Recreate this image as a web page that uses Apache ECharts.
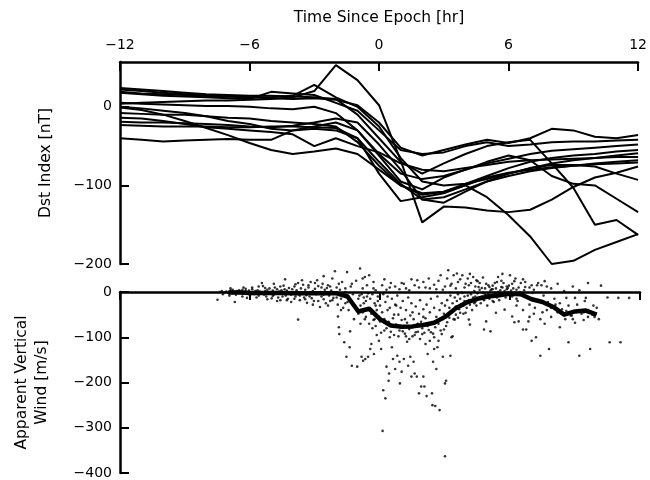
<!DOCTYPE html>
<html><head><meta charset="utf-8">
<script src="https://cdn.jsdelivr.net/npm/echarts@6/dist/echarts.min.js"></script>
<style>html,body{margin:0;padding:0;background:#fff}#c{width:650px;height:480px}</style>
</head><body><div id="c"></div>
<script>
// ---- data ----
const hours = [-12,-11,-10,-9,-8,-7,-6,-5,-4,-3,-2,-1,0,1,2,3,4,5,6,7,8,9,10,11,12];
const dst01 = [4,5,6,7,8,8,9,10,12,20,53,34,2,-68,-147,-127,-128,-132,-134,-131,-118,-102,-90,-84,-76];
const dst02 = [-8,-9,-10,-10,-12,-14,-15,-18,-20,-22,-25,-45,-75,-100,-112,-108,-100,-115,-138,-165,-200,-196,-182,-172,-162];
const dst03 = [24,22,20,18,16,15,14,14,13,12,10,-10,-40,-70,-85,-72,-60,-50,-45,-42,-72,-103,-150,-144,-163];
const dst04 = [0,-2,-5,-8,-12,-18,-22,-28,-30,-25,-20,-30,-62,-95,-105,-90,-80,-70,-62,-68,-88,-98,-100,-117,-134];
const dst05 = [19,17,16,15,14,13,12,12,14,28,12,0,-25,-65,-95,-100,-98,-92,-85,-78,-74,-74,-76,-85,-93];
const dst06 = [22,20,18,16,14,13,12,11,10,11,9,2,-20,-52,-62,-55,-48,-42,-46,-40,-28,-30,-38,-40,-36];
const dst07 = [18,16,14,13,12,11,10,19,17,15,5,-5,-30,-55,-60,-58,-50,-45,-50,-48,-45,-44,-44,-43,-42];
const dst08 = [5,4,3,2,1,1,0,-2,-3,0,-8,-30,-60,-85,-92,-88,-80,-72,-66,-60,-56,-54,-52,-50,-48];
const dst09 = [-1,-4,-10,-18,-27,-36,-46,-55,-60,-57,-53,-60,-80,-100,-110,-108,-98,-88,-78,-70,-65,-62,-60,-57,-55];
const dst10 = [-40,-42,-44,-43,-42,-41,-42,-42,-30,-28,-30,-40,-70,-98,-118,-115,-105,-95,-85,-78,-72,-68,-65,-62,-59];
const dst11 = [-14,-15,-18,-22,-26,-28,-30,-32,-35,-50,-40,-50,-58,-72,-80,-82,-78,-74,-70,-68,-67,-66,-65,-64,-64];
const dst12 = [-19,-20,-20,-21,-22,-23,-25,-26,-24,-20,-15,-20,-48,-80,-118,-122,-108,-95,-88,-82,-78,-75,-72,-70,-68];
const dst13 = [-23,-24,-25,-25,-25,-26,-26,-25,-25,-26,-27,-40,-85,-120,-115,-110,-100,-90,-84,-80,-77,-75,-73,-72,-71];
const dstStorms = [dst01,dst02,dst03,dst04,dst05,dst06,dst07,dst08,dst09,dst10,dst11,dst12,dst13];

const meanHours = [-7,-6.5,-6,-5.5,-5,-4.5,-4,-3.5,-3,-2.5,-2,-1.5,-1,-0.5,0,0.5,1,1.5,2,2.5,3,3.5,4,4.5,5,5.5,6,6.5,7,7.5,8,8.5,9,9.5,10];
const meanWind = [-1,-1,-2,-2,-2,-2,-3,-3,-3,-3,-3,-10,-43,-37,-60,-74,-77,-76,-73,-68,-55,-36,-23,-15,-10,-7,-4,-5,-16,-22,-33,-50,-43,-41,-50];

const windSamples = [
[-7.5,-17],[-7.4,0],[-7.3,2],[-7.2,-1],[-7.1,1],[-7.0,-2],
[-6.9,3],[-6.85,0],[-6.8,-3],[-6.75,1],[-6.7,-22],[-6.6,2],[-6.55,-1],[-6.5,4],
[-6.45,-2],[-6.4,1],[-6.35,5],[-6.3,-4],[-6.25,0],[-6.2,2],[-6.14,-13],[-6.1,-1],[-6.05,3],
[-5.95,-3],[-5.9,6],[-5.85,0],[-5.8,-5],[-5.75,2],[-5.7,-1],[-5.65,4],[-5.6,-8],[-5.55,1],
[-5.45,20],[-5.4,13],[-5.35,-6],[-5.3,2],[-5.25,-10],[-5.2,5],[-5.15,-3],[-5.1,8],[-5.05,-1],[-5.0,-14],
[-4.95,3],[-4.9,-6],[-4.85,10],[-4.8,-2],[-4.75,6],[-4.7,-12],[-4.65,1],[-4.6,-18],[-4.55,4],[-4.5,-4],
[-4.45,14],[-4.38,28],[-4.35,-8],[-4.3,3],[-4.25,-15],[-4.2,9],[-4.15,-3],[-4.1,-22],[-4.05,6],[-4.0,0],
[-3.95,12],[-3.9,-10],[-3.85,4],[-3.78,20],[-3.78,-61],[-3.75,-5],[-3.7,-18],[-3.65,8],[-3.6,-2],[-3.55,16],[-3.5,-12],
[-3.45,5],[-3.4,-7],[-3.37,-24],[-3.3,10],[-3.25,-3],[-3.2,22],[-3.15,-14],[-3.1,2],[-3.05,-20],[-3.0,7],
[-2.95,-5],[-2.9,26],[-2.85,13],[-2.77,-33],[-2.75,0],[-2.7,-10],[-2.65,18],[-2.6,-16],[-2.55,5],[-2.5,-25],[-2.45,9],
[-2.4,15],[-2.35,-8],[-2.3,-20],[-2.25,3],[-2.2,30],[-2.15,-13],[-2.08,46],[-2.05,-4],[-2.0,10],[-1.95,-28],[-1.94,-54],
[-1.9,-78],[-1.88,-93],[-1.85,5],[-1.8,-15],[-1.75,22],[-1.7,-35],[-1.65,-111],[-1.6,0],[-1.55,-143],[-1.52,44],[-1.5,-22],
[-1.45,-40],[-1.4,-122],[-1.38,-87],[-1.35,12],[-1.3,-163],[-1.25,-5],[-1.2,-60],[-1.15,-30],[-1.1,25],[-1.05,-165],[-1.0,-48],[-1.0,-15],
[-0.92,52],[-0.9,-70],[-0.85,-143],[-0.8,30],[-0.78,-152],[-0.75,-25],[-0.7,33],[-0.68,-148],[-0.65,-55],[-0.6,-10],[-0.55,-143],[-0.5,-40],[-0.5,37],
[-0.45,-126],[-0.4,-115],[-0.35,-80],[-0.3,22],[-0.28,-137],[-0.25,-60],[-0.2,-30],[-0.15,-95],[-0.1,-20],[-0.05,-108],[0.0,-65],
[0.05,-126],[0.1,15],[0.12,-307],[0.15,-217],[0.2,-85],[0.25,-235],[0.3,-165],[0.35,-40],[0.4,-196],[0.42,-180],[0.45,-100],[0.5,20],
[0.55,-122],[0.6,-148],[0.65,-50],[0.7,-170],[0.75,-30],[0.8,-141],[0.85,-98],[0.9,-154],[0.92,-202],[0.95,-75],[1.0,20],[1.0,-176],
[1.05,-87],[1.1,-148],[1.15,-60],[1.2,-98],[1.25,-110],[1.3,-163],[1.35,-104],[1.4,-143],[1.45,-187],[1.5,-98],[1.5,-45],[1.45,28],
[1.55,-154],[1.6,-180],[1.65,-89],[1.7,-187],[1.72,26],[1.75,-70],[1.8,-224],[1.85,-104],[1.9,-209],[1.95,-93],[2.0,-187],[2.0,-55],
[2.05,-209],[2.1,-115],[2.15,-230],[2.2,-137],[2.25,30],[2.3,-108],[2.35,-89],[2.4,-224],[2.42,-250],[2.45,-154],[2.5,-100],[2.5,-126],
[2.55,-252],[2.6,-170],[2.65,-122],[2.7,-108],[2.75,-261],[2.8,37],[2.85,-93],[2.9,-143],[2.95,-83],[3.0,-202],[3.0,-363],
[3.05,-196],[3.1,-67],[3.15,48],[3.2,-57],[3.25,-141],[3.3,-100],[3.35,-98],[3.4,37],[3.45,-61],[3.5,-50],
[3.55,41],[3.6,-57],[3.7,-46],[3.8,37],[3.85,-30],[3.9,-20],[3.95,-46],
[4.05,30],[4.1,-61],[4.15,-72],[4.2,20],[4.3,33],[4.35,-25],[4.4,-10],[4.45,26],
[4.55,11],[4.6,-15],[4.7,9],[4.8,-83],[4.85,-5],[4.9,-65],
[5.05,11],[5.1,-87],[5.2,-20],[5.3,20],[5.35,-46],[5.45,33],[5.5,-8],
[5.6,11],[5.7,20],[5.75,-39],[5.8,-3],[5.9,9],[6.0,37],
[6.1,-54],[6.2,-67],[6.25,30],[6.3,-15],[6.4,-65],[6.5,20],
[6.6,-83],[6.7,11],[6.75,-83],[6.85,-65],[7.0,-108],[7.0,15],
[7.2,-100],[7.25,15],[7.4,-141],[7.45,15],
[7.6,24],[7.75,-22],[7.8,-126],[8.0,-33],[8.1,-28],[8.3,-78],
[8.6,-13],[8.7,-111],[8.8,-52],[8.9,-60],[9.0,-13],[9.2,-141],[9.7,-126],[9.4,-45],[9.5,-13],[9.6,-40],[9.8,-50],[10.0,-35],
[10.6,-111],[11.1,-111],[10.5,-12],[11.0,-13],[11.5,-13],
[-0.95,-8],[-0.9,-30],[-0.85,-5],[-0.8,-45],[-0.75,-12],[-0.7,-60],[-0.65,-20],[-0.6,-38],[-0.55,-3],[-0.5,-70],[-0.45,-15],[-0.4,-48],[-0.35,-5],[-0.3,-62],[-0.25,-25],[-0.2,-75],[-0.15,-40],[-0.1,-10],[-0.05,-55],[0.0,-30],
[0.05,-90],[0.1,-45],[0.15,-5],[0.2,-60],[0.25,-22],[0.3,-80],[0.35,-10],[0.4,-66],[0.45,-35],[0.5,-88],[0.55,-15],[0.6,-58],[0.65,-95],[0.7,-28],[0.75,-72],[0.8,-8],[0.85,-50],[0.9,-85],[0.95,-35],[1.0,-62],
[1.05,-20],[1.1,-75],[1.15,-92],[1.2,-40],[1.25,-68],[1.3,-12],[1.35,-82],[1.4,-52],[1.45,-25],[1.5,-78],[1.55,-60],[1.6,-95],[1.65,-32],[1.7,-72],[1.75,-88],[1.8,-48],[1.85,-18],[1.9,-66],[1.95,-80],[2.0,-38],
[2.05,-90],[2.1,-58],[2.15,-28],[2.2,-75],[2.25,-84],[2.3,-45],[2.35,-15],[2.4,-68],[2.45,-92],[2.5,-35],[2.55,-78],[2.6,-55],[2.65,-10],[2.7,-70],[2.75,-40],[2.8,-85],[2.85,-25],[2.9,-60],[2.95,-48],[3.0,-30],
[3.05,-75],[3.1,-18],[3.15,-52],[3.2,-35],[3.25,-8],[3.3,-44],[3.35,-25],[3.4,-60],[3.45,-12],[3.5,-32],[3.55,-20],[3.6,-5],[3.65,-38],[3.7,-15],[3.75,-28],[3.8,-2],[3.85,-48],[3.9,-10],[3.95,-22],[4.0,-35],
[4.05,-8],[4.1,-18],[4.15,-28],[4.2,-5],[4.25,-40],[4.3,-12],[4.35,2],[4.4,-22],[4.45,-30],[4.5,-3],[4.55,-15],[4.6,5],[4.65,-25],[4.7,-10],[4.75,-2],[4.8,-18],[4.85,8],[4.9,-8],[4.95,-30],[5.0,-5],
[5.05,-15],[5.1,3],[5.15,-10],[5.2,6],[5.25,-22],[5.3,-2],[5.35,8],[5.4,-12],[5.45,0],[5.5,-18],[5.55,4],[5.6,-6],[5.65,10],[5.7,-3],[5.75,2],[5.8,-12],[5.85,6],[5.9,-2],[5.95,14],[6.0,-5],
[6.05,3],[6.1,-10],[6.15,8],[6.2,-2],[6.3,5],[6.35,-20],[6.45,0],[6.55,-8],[6.65,4],[6.8,-12],[6.9,-28],[7.05,-2],[7.15,-35],[7.3,-18],[7.5,-45],[7.55,-8],[7.7,-40],[7.9,-55],[8.05,-15],[8.2,-45],[8.4,-38],[8.55,-60],[8.7,-30],[8.85,-52],[9.0,-68],[9.15,-40],[9.3,-48],[9.45,-20],[9.6,-55],[9.75,-45],[9.85,-30],
[-0.3,8],[0.3,5],[0.7,12],[1.2,8],[1.6,15],[2.1,10],[2.6,6],[3.0,12],[3.3,18],[3.6,22],[3.9,10],[4.1,15],[4.5,24],[4.9,18],[5.2,14],[5.6,25],[6.1,18],[6.7,22],[7.1,5],[7.9,8],[8.5,2],[9.2,4],
[-0.8,8],[-0.6,15],[-0.2,4],[0.2,28],[0.45,10],[0.9,6],[1.1,18],[1.35,4],[1.8,10],[2.0,22],[2.3,8],[2.5,16],[2.7,25],[2.9,5],[3.1,30],[3.25,14],[3.5,8],[3.7,28],[3.95,18],[4.15,40],[4.4,12],[4.6,20],[4.75,32],[5.0,15],[5.15,6],[5.4,22],[5.65,40],[5.85,12],[6.2,24],[6.4,10],[6.6,28],[6.9,10],[7.3,20],[7.7,12],[8.2,18],[8.9,12],[9.6,20],[10.2,14],[-1.3,18],[-1.6,8],[-2.6,35],[-3.6,26],[-4.9,18],[-5.6,12],[-6.3,10],[-6.9,8],
[-7.25,-5],[-6.95,-8],[-6.65,-6],[-6.35,-10],[-6.0,-7],[-5.7,-12],[-5.5,-4],[-5.2,-16],[-4.95,-9],[-4.75,-20],[-4.5,-10],[-4.3,-18],[-4.1,-6],[-3.95,-15],[-3.7,-8],[-3.45,-16],[-3.25,-10],[-3.1,-28],[-2.85,-20],[-2.6,-6],[-2.4,-30],[-2.2,-18],[-2.0,-12],[-1.8,-40],[-1.6,-25],[-1.45,-10],[-6.8,5],[-6.2,7],[-5.9,10],[-5.3,9],[-4.6,12],[-4.4,6],[-3.9,17],[-3.3,15],[-3.0,20],[-2.7,10],[-2.3,12],[-1.9,18],
[6.3,-30],[6.6,-40],[6.9,-55],[7.1,-48],[7.4,-60],[7.6,-70],[7.9,-35],[8.3,-25],[8.6,-42],[9.1,-28],[9.4,-62],[9.9,-55],[10.1,-60]
];

// ---- chart ----
const FONT = 'DejaVu Sans';
const minus = v => String(v).replace('-', '\u2212');
const chart = echarts.init(document.getElementById('c'), null, {renderer: 'canvas'});
const axisLine = {show: true, onZero: false, lineStyle: {color: '#000', width: 2.5}};
const tick = {show: true, inside: true, length: 9, lineStyle: {color: '#000', width: 2}};
const series = dstStorms.map((vals, k) => ({
  type: 'line', xAxisIndex: 0, yAxisIndex: 0, name: 'storm' + (k + 1),
  data: hours.map((h, i) => [h, vals[i]]),
  showSymbol: false, symbol: 'none', silent: true, animation: false,
  lineStyle: {color: '#000', width: 2}
}));
series.push({
  type: 'scatter', xAxisIndex: 1, yAxisIndex: 1, data: windSamples, clip: false,
  symbol: 'circle', symbolSize: 2.6, itemStyle: {color: '#000'}, silent: true, animation: false
});
series.push({
  type: 'line', xAxisIndex: 1, yAxisIndex: 1,
  data: meanHours.map((h, i) => [h, meanWind[i]]), clip: false,
  showSymbol: false, symbol: 'none', silent: true, animation: false,
  lineStyle: {color: '#000', width: 4.5, join: 'round'}
});
chart.setOption({
  backgroundColor: '#fff',
  animation: false,
  textStyle: {fontFamily: FONT},
  grid: [
    {left: 120, right: 10, top: 62, height: 202},
    {left: 120, right: 10, top: 292, height: 183}
  ],
  xAxis: [
    {gridIndex: 0, type: 'value', position: 'top', min: -12, max: 12, interval: 6,
     name: 'Time Since Epoch [hr]', nameLocation: 'middle', nameGap: 36,
     nameTextStyle: {fontFamily: FONT, fontSize: 15.5, color: '#000'},
     axisLine: axisLine, axisTick: tick, splitLine: {show: false},
     axisLabel: {fontFamily: FONT, fontSize: 14, color: '#000', margin: 10, formatter: minus}},
    {gridIndex: 1, type: 'value', position: 'top', min: -12, max: 12, interval: 6,
     axisLine: axisLine,
     axisTick: {show: true, inside: true, length: 8, lineStyle: {color: '#000', width: 2}},
     splitLine: {show: false}, axisLabel: {show: false}}
  ],
  yAxis: [
    {gridIndex: 0, type: 'value', position: 'left', min: -200, max: 57, interval: 100,
     name: 'Dst Index [nT]', nameLocation: 'middle', nameGap: 66,
     nameTextStyle: {fontFamily: FONT, fontSize: 15.5, color: '#000'},
     axisLine: axisLine, axisTick: tick, splitLine: {show: false},
     axisLabel: {fontFamily: FONT, fontSize: 14, color: '#000', margin: 8, formatter: minus, showMaxLabel: false}},
    {gridIndex: 1, type: 'value', position: 'left', min: -400, max: 0, interval: 100,
     name: 'Apparent Vertical\nWind [m/s]', nameLocation: 'middle', nameGap: 68,
     nameTextStyle: {fontFamily: FONT, fontSize: 15.5, color: '#000', lineHeight: 20},
     axisLine: axisLine, axisTick: tick, splitLine: {show: false},
     axisLabel: {fontFamily: FONT, fontSize: 14, color: '#000', margin: 8, formatter: minus}}
  ],
  series: series
});
</script></body></html>
